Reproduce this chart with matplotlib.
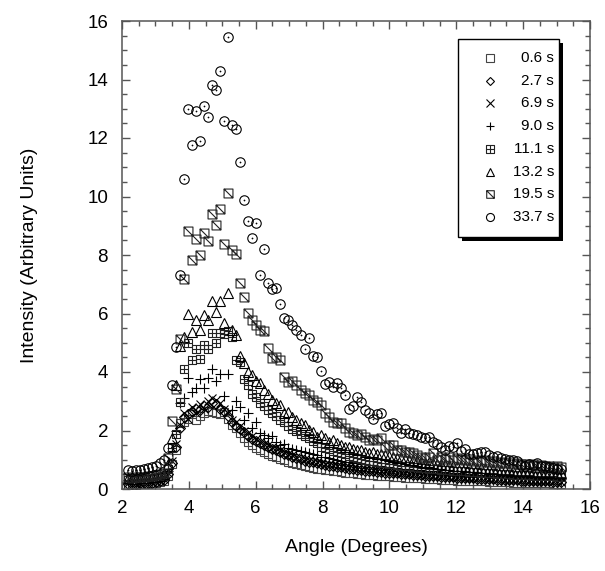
import matplotlib
matplotlib.use("Agg")
import matplotlib.pyplot as plt
from matplotlib.path import Path
from matplotlib.patches import Rectangle
from matplotlib.ticker import MultipleLocator

plt.rcParams['font.family'] = ['Liberation Sans', 'DejaVu Sans']

angle = [2.18, 2.30, 2.42, 2.54, 2.66, 2.78, 2.90, 3.02, 3.14, 3.26,
         3.38, 3.50, 3.62, 3.74, 3.86, 3.98, 4.10, 4.22, 4.34, 4.46,
         4.58, 4.70, 4.82, 4.94, 5.06, 5.18, 5.30, 5.42, 5.54, 5.66,
         5.78, 5.90, 6.02, 6.14, 6.26, 6.38, 6.50, 6.62, 6.74, 6.86,
         6.98, 7.10, 7.22, 7.34, 7.46, 7.58, 7.70, 7.82, 7.94, 8.06,
         8.18, 8.30, 8.42, 8.54, 8.66, 8.78, 8.90, 9.02, 9.14, 9.26,
         9.38, 9.50, 9.62, 9.74, 9.86, 9.98, 10.10, 10.22, 10.34, 10.46,
         10.58, 10.70, 10.82, 10.94, 11.06, 11.18, 11.30, 11.42, 11.54, 11.66,
         11.78, 11.90, 12.02, 12.14, 12.26, 12.38, 12.50, 12.62, 12.74, 12.86,
         12.98, 13.10, 13.22, 13.34, 13.46, 13.58, 13.70, 13.82, 13.94, 14.06,
         14.18, 14.30, 14.42, 14.54, 14.66, 14.78, 14.90, 15.02, 15.14]

s0_6 = [0.15, 0.14, 0.15, 0.16, 0.17, 0.18, 0.19, 0.21, 0.24, 0.28,
        0.45, 0.85, 1.35, 2.25, 2.30, 2.40, 2.55, 2.35, 2.50, 2.60,
        2.65, 2.62, 2.60, 2.55, 2.62, 2.40, 2.20, 2.10, 1.90, 1.75,
        1.62, 1.50, 1.40, 1.33, 1.26, 1.20, 1.14, 1.08, 1.03, 0.98,
        0.94, 0.90, 0.86, 0.82, 0.79, 0.76, 0.73, 0.70, 0.68, 0.66,
        0.64, 0.62, 0.60, 0.58, 0.56, 0.55, 0.53, 0.52, 0.50, 0.49,
        0.48, 0.47, 0.46, 0.45, 0.44, 0.43, 0.42, 0.41, 0.40, 0.39,
        0.38, 0.37, 0.36, 0.36, 0.35, 0.34, 0.33, 0.33, 0.32, 0.31,
        0.31, 0.30, 0.29, 0.29, 0.28, 0.28, 0.27, 0.27, 0.26, 0.26,
        0.25, 0.25, 0.24, 0.24, 0.23, 0.23, 0.22, 0.22, 0.21, 0.21,
        0.21, 0.20, 0.20, 0.19, 0.19, 0.19, 0.18, 0.18, 0.17]

s2_7 = [0.18, 0.17, 0.18, 0.19, 0.20, 0.21, 0.22, 0.24, 0.27, 0.32,
        0.50, 0.90, 1.45, 2.10, 2.45, 2.55, 2.65, 2.75, 2.70, 2.85,
        2.80, 2.95, 2.90, 2.75, 2.65, 2.50, 2.30, 2.15, 2.05, 1.95,
        1.82, 1.72, 1.64, 1.56, 1.50, 1.44, 1.38, 1.33, 1.26, 1.20,
        1.15, 1.10, 1.05, 1.01, 0.97, 0.94, 0.91, 0.88, 0.85, 0.82,
        0.80, 0.78, 0.76, 0.74, 0.72, 0.70, 0.68, 0.66, 0.65, 0.63,
        0.62, 0.60, 0.59, 0.58, 0.56, 0.55, 0.54, 0.53, 0.52, 0.51,
        0.50, 0.49, 0.48, 0.47, 0.46, 0.45, 0.44, 0.43, 0.42, 0.41,
        0.41, 0.40, 0.39, 0.38, 0.38, 0.37, 0.36, 0.35, 0.35, 0.34,
        0.34, 0.33, 0.32, 0.32, 0.31, 0.31, 0.30, 0.30, 0.29, 0.29,
        0.28, 0.28, 0.27, 0.27, 0.26, 0.26, 0.25, 0.25, 0.24]

s6_9 = [0.22, 0.20, 0.21, 0.22, 0.23, 0.24, 0.25, 0.27, 0.30, 0.35,
        0.55, 0.95, 1.55, 2.20, 2.60, 2.40, 2.80, 2.60, 2.90, 2.75,
        3.00, 3.10, 3.05, 2.95, 2.75, 2.60, 2.35, 2.30, 2.15, 2.00,
        1.90, 1.80, 1.70, 1.62, 1.55, 1.50, 1.45, 1.40, 1.32, 1.25,
        1.20, 1.15, 1.10, 1.06, 1.02, 0.98, 0.95, 0.92, 0.90, 0.87,
        0.84, 0.82, 0.80, 0.78, 0.76, 0.74, 0.72, 0.70, 0.68, 0.67,
        0.65, 0.64, 0.62, 0.61, 0.60, 0.58, 0.57, 0.56, 0.55, 0.54,
        0.52, 0.51, 0.50, 0.49, 0.48, 0.47, 0.46, 0.45, 0.44, 0.43,
        0.42, 0.42, 0.41, 0.40, 0.39, 0.38, 0.38, 0.37, 0.36, 0.36,
        0.35, 0.34, 0.34, 0.33, 0.32, 0.32, 0.31, 0.31, 0.30, 0.30,
        0.29, 0.29, 0.28, 0.28, 0.27, 0.27, 0.26, 0.26, 0.25]

s9_0 = [0.30, 0.28, 0.29, 0.30, 0.31, 0.32, 0.33, 0.35, 0.37, 0.40,
        0.62, 1.30, 2.00, 2.95, 3.10, 3.78, 3.30, 3.45, 3.75, 3.45,
        3.80, 4.09, 3.70, 3.94, 3.18, 3.94, 2.70, 3.00, 2.80, 2.35,
        2.59, 2.10, 2.30, 1.90, 1.85, 1.75, 1.80, 1.60, 1.50, 1.55,
        1.40, 1.38, 1.32, 1.30, 1.25, 1.22, 1.18, 1.15, 1.10, 1.08,
        1.05, 1.02, 0.98, 0.97, 0.94, 0.92, 0.90, 0.88, 0.86, 0.84,
        0.83, 0.81, 0.79, 0.78, 0.76, 0.75, 0.73, 0.72, 0.70, 0.69,
        0.68, 0.66, 0.65, 0.64, 0.63, 0.62, 0.61, 0.60, 0.58, 0.57,
        0.56, 0.55, 0.54, 0.53, 0.52, 0.51, 0.50, 0.49, 0.48, 0.47,
        0.46, 0.46, 0.45, 0.44, 0.43, 0.43, 0.42, 0.41, 0.40, 0.40,
        0.39, 0.38, 0.38, 0.37, 0.36, 0.36, 0.35, 0.35, 0.34]

s11_1 = [0.32, 0.30, 0.31, 0.32, 0.33, 0.34, 0.35, 0.37, 0.40, 0.44,
         0.70, 1.40, 1.89, 2.98, 4.09, 4.98, 4.41, 4.79, 4.43, 4.93,
         4.79, 5.34, 5.00, 5.34, 5.30, 5.40, 5.20, 4.40, 4.35, 3.75,
         3.55, 3.25, 3.15, 2.95, 2.85, 2.70, 2.60, 2.50, 2.35, 2.28,
         2.15, 2.05, 2.00, 1.88, 1.80, 1.75, 1.65, 1.58, 1.45, 1.40,
         1.36, 1.30, 1.25, 1.22, 1.18, 1.12, 1.10, 1.06, 1.04, 1.00,
         0.97, 0.95, 0.93, 0.90, 0.88, 0.86, 0.85, 0.82, 0.80, 0.80,
         0.77, 0.76, 0.75, 0.73, 0.72, 0.70, 0.70, 0.68, 0.66, 0.66,
         0.64, 0.63, 0.62, 0.61, 0.60, 0.58, 0.58, 0.57, 0.56, 0.55,
         0.55, 0.54, 0.52, 0.52, 0.51, 0.50, 0.49, 0.49, 0.48, 0.47,
         0.47, 0.46, 0.45, 0.45, 0.44, 0.43, 0.43, 0.42, 0.41]

s13_2 = [0.36, 0.34, 0.35, 0.36, 0.37, 0.38, 0.40, 0.42, 0.45, 0.50,
         0.85, 1.73, 3.56, 4.89, 5.20, 6.00, 5.38, 5.78, 5.44, 5.95,
         5.78, 6.44, 6.06, 6.44, 5.69, 6.69, 5.44, 5.26, 4.55, 4.30,
         4.01, 3.90, 3.70, 3.63, 3.40, 3.25, 3.05, 2.93, 2.87, 2.59,
         2.64, 2.47, 2.36, 2.25, 2.19, 2.02, 1.96, 1.79, 1.85, 1.73,
         1.62, 1.66, 1.56, 1.50, 1.45, 1.42, 1.38, 1.33, 1.35, 1.28,
         1.24, 1.27, 1.20, 1.18, 1.16, 1.12, 1.10, 1.05, 1.07, 1.02,
         0.99, 1.00, 0.95, 0.93, 0.90, 0.92, 0.88, 0.85, 0.86, 0.82,
         0.83, 0.80, 0.78, 0.80, 0.76, 0.74, 0.75, 0.72, 0.71, 0.72,
         0.69, 0.68, 0.69, 0.66, 0.65, 0.66, 0.63, 0.62, 0.63, 0.60,
         0.61, 0.58, 0.59, 0.57, 0.56, 0.57, 0.55, 0.54, 0.53]

s19_5 = [0.40, 0.38, 0.40, 0.41, 0.42, 0.43, 0.45, 0.47, 0.50, 0.55,
         1.05, 2.34, 3.41, 5.12, 7.17, 8.82, 7.83, 8.55, 8.00, 8.76,
         8.49, 9.40, 9.03, 9.57, 8.38, 10.11, 8.17, 8.03, 7.03, 6.55,
         6.01, 5.78, 5.60, 5.45, 5.41, 4.81, 4.47, 4.50, 4.41, 3.84,
         3.67, 3.70, 3.56, 3.38, 3.27, 3.21, 3.05, 2.98, 2.87, 2.59,
         2.47, 2.30, 2.25, 2.25, 2.10, 1.96, 1.90, 1.85, 1.88, 1.79,
         1.68, 1.70, 1.68, 1.73, 1.45, 1.50, 1.50, 1.33, 1.33, 1.28,
         1.28, 1.22, 1.16, 1.10, 1.05, 1.10, 1.22, 0.99, 1.10, 1.02,
         1.08, 1.00, 1.05, 1.03, 0.98, 1.04, 0.96, 1.00, 0.94, 0.98,
         0.92, 0.96, 0.90, 0.93, 0.88, 0.91, 0.86, 0.89, 0.84, 0.86,
         0.82, 0.84, 0.80, 0.82, 0.78, 0.79, 0.76, 0.77, 0.74]

s33_7 = [0.66, 0.62, 0.64, 0.66, 0.70, 0.72, 0.75, 0.80, 0.88, 0.98,
         1.39, 3.56, 4.84, 7.32, 10.59, 12.99, 11.76, 12.93, 11.91, 13.09,
         12.71, 13.80, 13.64, 14.30, 12.59, 15.44, 12.45, 12.30, 11.17, 9.88,
         9.16, 8.57, 9.10, 7.32, 8.22, 7.05, 6.83, 6.86, 6.32, 5.86,
         5.78, 5.61, 5.44, 5.26, 4.78, 5.15, 4.55, 4.50, 4.05, 3.59,
         3.66, 3.50, 3.61, 3.45, 3.21, 2.72, 2.84, 3.14, 2.98, 2.70,
         2.61, 2.38, 2.56, 2.59, 2.15, 2.22, 2.25, 2.10, 1.93, 2.04,
         1.90, 1.88, 1.85, 1.79, 1.73, 1.79, 1.62, 1.54, 1.45, 1.33,
         1.47, 1.45, 1.58, 1.31, 1.36, 1.20, 1.20, 1.22, 1.25, 1.28,
         1.16, 1.10, 1.12, 1.05, 1.02, 1.00, 1.00, 0.95, 0.82, 0.79,
         0.86, 0.82, 0.88, 0.79, 0.78, 0.74, 0.72, 0.70, 0.68]

labels = ["0.6 s", "2.7 s", "6.9 s", "9.0 s", "11.1 s", "13.2 s", "19.5 s", "33.7 s"]
series = [s0_6, s2_7, s6_9, s9_0, s11_1, s13_2, s19_5, s33_7]
for s in series:
    assert len(s) == len(angle), len(s)

# custom markers
sq_plus = Path([(-1, -1), (1, -1), (1, 1), (-1, 1), (-1, -1),
                (0, -1), (0, 1), (-1, 0), (1, 0)],
               [Path.MOVETO, Path.LINETO, Path.LINETO, Path.LINETO, Path.CLOSEPOLY,
                Path.MOVETO, Path.LINETO, Path.MOVETO, Path.LINETO])
sq_diag = Path([(-1, -1), (1, -1), (1, 1), (-1, 1), (-1, -1),
                (-1, 1), (1, -1)],
               [Path.MOVETO, Path.LINETO, Path.LINETO, Path.LINETO, Path.CLOSEPOLY,
                Path.MOVETO, Path.LINETO])

styles = [
    dict(marker='s', ms=6.0, mec='#444444'),
    dict(marker='D', ms=5.0, mec='black'),
    dict(marker='x', ms=6.2, mec='black'),
    dict(marker='+', ms=7.2, mec='black'),
    dict(marker=sq_plus, ms=6.4, mec='#222222'),
    dict(marker='^', ms=6.6, mec='black'),
    dict(marker=sq_diag, ms=6.4, mec='#222222'),
    dict(marker='o', ms=6.8, mec='black'),
]

W, H = 605, 571
fig = plt.figure(figsize=(W / 100, H / 100), dpi=100)
L, R, T, B = 122, 590, 21, 489
ax = fig.add_axes([L / W, 1 - B / H, (R - L) / W, (B - T) / H])

for s, st in zip(series, styles):
    ax.plot(angle, s, ls='none', mfc='none', mew=0.8, **st)
# centre dots of the circles
ax.plot(angle, s33_7, ls='none', marker='o', ms=0.9, mfc='black', mec='black', mew=0.3)

ax.set_xlim(2, 16)
ax.set_ylim(0, 16)
ax.xaxis.set_major_locator(MultipleLocator(2))
ax.xaxis.set_minor_locator(MultipleLocator(0.5))
ax.yaxis.set_major_locator(MultipleLocator(2))
ax.yaxis.set_minor_locator(MultipleLocator(0.5))
ax.tick_params(which='both', direction='in', top=True, right=True, color='#555555', width=1.0)
ax.tick_params(which='major', length=6, labelsize=13.5)
ax.tick_params(axis='x', which='major', pad=8)
ax.tick_params(axis='y', which='major', pad=10)
ax.tick_params(which='minor', length=3.3)
for sp in ax.spines.values():
    sp.set_color('#555555')
    sp.set_linewidth(1.1)

ax.set_xlabel('Angle (Degrees)', fontsize=14)
ax.set_ylabel('Intensity (Arbitrary Units)', fontsize=14)
ax.xaxis.set_label_coords(0.5, (B - 548) / (B - T))
ax.xaxis.label.set_verticalalignment('center')
ax.yaxis.set_label_coords((30 - L) / (R - L), 0.5)
ax.yaxis.label.set_verticalalignment('center')

# legend box with solid shadow
aw, ah = R - L, B - T
def fx(px):
    return (px - L) / aw
def fy(py):
    return (B - py) / ah
lx0, lx1, ly0, ly1 = 458, 559, 39, 237
sh = 4
ax.add_patch(Rectangle((fx(lx0 + sh), fy(ly1 + sh)), fx(lx1) - fx(lx0), fy(ly0) - fy(ly1),
                       transform=ax.transAxes, facecolor='black', edgecolor='black',
                       lw=0, zorder=10, clip_on=False))
ax.add_patch(Rectangle((fx(lx0), fy(ly1)), fx(lx1) - fx(lx0), fy(ly0) - fy(ly1),
                       transform=ax.transAxes, facecolor='white', edgecolor='black',
                       lw=1.0, zorder=11, clip_on=False))
for i, (lab, st) in enumerate(zip(labels, styles)):
    yy = fy(58 + 22.7 * i)
    st2 = dict(st)
    st2['ms'] = st['ms'] * 0.85
    ax.plot([fx(490)], [yy], transform=ax.transAxes, ls='none', mfc='none', mew=0.8,
            zorder=12, clip_on=False, **st2)
    ax.text(fx(554), yy, lab, transform=ax.transAxes, ha='right', va='center',
            fontsize=11, zorder=12)

fig.savefig('out.png', dpi=100)
